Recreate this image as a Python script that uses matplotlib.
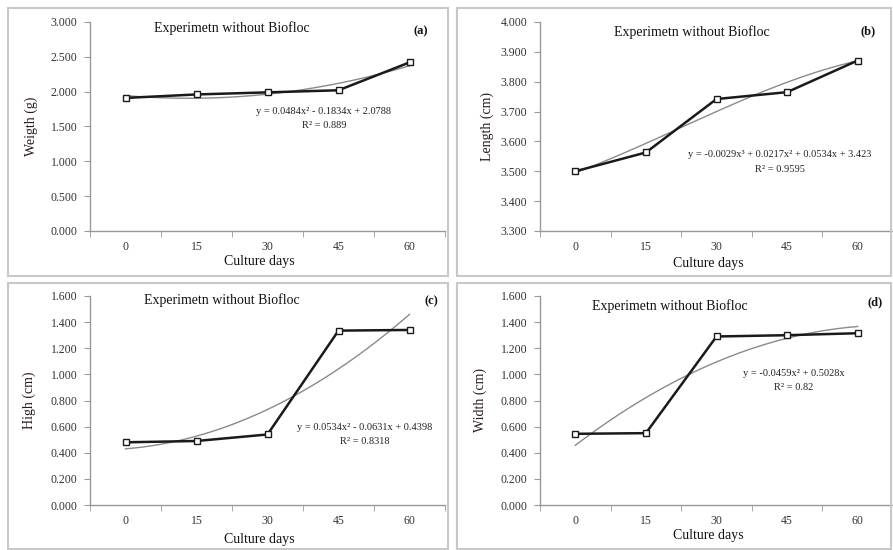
import matplotlib
matplotlib.use("Agg")
import matplotlib.pyplot as plt
import numpy as np
from matplotlib.patches import Rectangle

plt.rcParams['font.family'] = ['Liberation Serif', 'DejaVu Serif']

days = ["0", "15", "30", "45", "60"]

weight = [1.91, 1.96, 1.99, 2.02, 2.42]
length = [3.50, 3.563, 3.742, 3.765, 3.871]
high = [0.48, 0.49, 0.54, 1.335, 1.34]
width = [0.545, 0.55, 1.29, 1.30, 1.315]

# trendline polynomial coefficients (highest power first, x = 1..5)
coef_a = [0.0484, -0.1834, 2.0788]
coef_b = [-0.0029, 0.0217, 0.0534, 3.423]
coef_c = [0.0534, -0.0631, 0.4398]
coef_d = [-0.0459, 0.5028, 0.0]

eq_a = ["y = 0.0484x² - 0.1834x + 2.0788", "R² = 0.889"]
eq_b = ["y = -0.0029x³ + 0.0217x² + 0.0534x + 3.423", "R² = 0.9595"]
eq_c = ["y = 0.0534x² - 0.0631x + 0.4398", "R² = 0.8318"]
eq_d = ["y = -0.0459x² + 0.5028x", "R² = 0.82"]

title = "Experimetn without Biofloc"

W, H = 893, 550
fig = plt.figure(figsize=(W / 100, H / 100), dpi=100)

def fx(px):
    return px / W

def fy(py):
    return 1 - py / H

# panel frames
for (x0, y0, x1, y1) in [(8, 8, 448, 276), (457, 8, 891, 276), (8, 283, 448, 549), (457, 283, 891, 549)]:
    fig.patches.append(Rectangle((fx(x0), fy(y1)), fx(x1 - x0), (y1 - y0) / H,
                                 transform=fig.transFigure, fill=False,
                                 edgecolor='#c8c8c8', linewidth=1.5, zorder=0))

panels = [
    dict(rect=(90, 22, 445, 231), data=weight, coef=coef_a, eq=eq_a, ylim=(0, 3.0), step=0.5,
         ylabel="Weigth (g)", tag="(a)", eqpos=(324, 112), titlepos=(232, 28), tagpos=(421, 31),
         ylabx=31, xlaby=262),
    dict(rect=(540, 22, 893, 231), data=length, coef=coef_b, eq=eq_b, ylim=(3.3, 4.0), step=0.1,
         ylabel="Length (cm)", tag="(b)", eqpos=(780, 155), titlepos=(692, 32), tagpos=(868, 31),
         ylabx=487, xlaby=263),
    dict(rect=(90, 296, 445, 505), data=high, coef=coef_c, eq=eq_c, ylim=(0, 1.6), step=0.2,
         ylabel="High (cm)", tag="(c)", eqpos=(365, 428), titlepos=(222, 300), tagpos=(431, 301),
         ylabx=29, xlaby=540),
    dict(rect=(540, 296, 893, 505), data=width, coef=coef_d, eq=eq_d, ylim=(0, 1.6), step=0.2,
         ylabel="Width (cm)", tag="(d)", eqpos=(794, 374), titlepos=(670, 306), tagpos=(875, 302),
         ylabx=480, xlaby=536),
]

for p in panels:
    x0, y0, x1, y1 = p['rect']
    ax = fig.add_axes([fx(x0), fy(y1), fx(x1 - x0), (y1 - y0) / H])
    x = np.arange(1, len(days) + 1)
    xs = np.linspace(1, len(days), 200)
    ax.plot(xs, np.polyval(p['coef'], xs), color='#8a8a8a', lw=1.0, zorder=2)
    ax.plot(x, p['data'], color='#1a1a1a', lw=1.8, marker='s', ms=5,
            mfc='white', mec='#1a1a1a', mew=1.0, zorder=3)
    ax.set_xlim(0.5, len(days) + 0.5)
    ax.set_ylim(*p['ylim'])
    yt = np.arange(p['ylim'][0], p['ylim'][1] + p['step'] / 2, p['step'])
    ax.set_yticks(yt)
    ax.set_yticklabels([f"{v:.3f}" for v in yt])
    ax.set_xticks(x)
    ax.set_xticklabels(days)
    ax.set_xticks(np.arange(0.5, len(days) + 1, 1.0), minor=True)
    ax.tick_params(axis='x', which='major', length=0, pad=7, labelsize=8.5, labelcolor='#333333')
    ax.tick_params(axis='x', which='minor', length=4, color='#999999', direction='out')
    ax.tick_params(axis='y', length=4, color='#999999', direction='out', labelsize=8.5,
                   labelcolor='#333333', pad=5)
    for s in ['top', 'right']:
        ax.spines[s].set_visible(False)
    for s in ['left', 'bottom']:
        ax.spines[s].set_color('#999999')
        ax.spines[s].set_linewidth(1.0)
    ax.patch.set_alpha(0)

    fig.text(fx(p['titlepos'][0]), fy(p['titlepos'][1]), title, ha='center', va='center',
             fontsize=10, color='#111111')
    fig.text(fx(p['tagpos'][0]), fy(p['tagpos'][1]), p['tag'], ha='center', va='center',
             fontsize=9, fontweight='bold', color='#111111')
    ex, ey = p['eqpos']
    fig.text(fx(ex), fy(ey), p['eq'][0], ha='center', va='center', fontsize=7.5, color='#222222')
    fig.text(fx(ex), fy(ey + 14), p['eq'][1], ha='center', va='center', fontsize=7.5, color='#222222')
    fig.text(fx(p['ylabx']), fy((y0 + y1) / 2), p['ylabel'], rotation=90, ha='center', va='center',
             fontsize=10, color='#2a1a1a')
    fig.text(fx((x0 + x1) / 2 - 8), fy(p['xlaby']), "Culture days", ha='center', va='center',
             fontsize=10, color='#111111')

fig.savefig("out.png", dpi=100, facecolor='white')
